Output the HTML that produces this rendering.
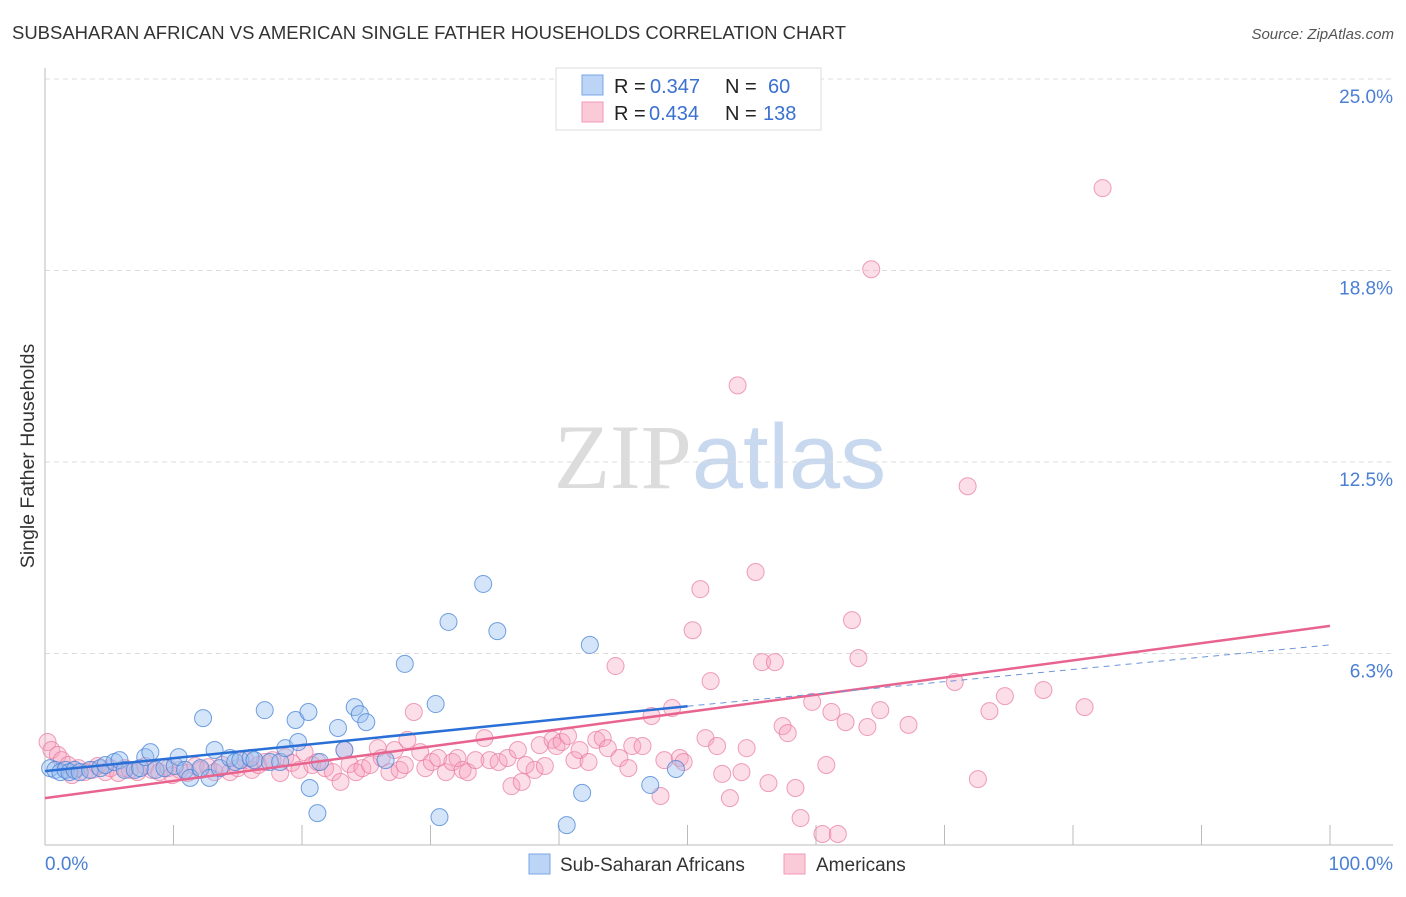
<!DOCTYPE html>
<html><head><meta charset="utf-8"><style>
body{margin:0;background:#fff;font-family:"Liberation Sans",sans-serif;}
svg text{font-family:"Liberation Sans",sans-serif;}
</style></head><body>
<svg id="chart" width="1406" height="892" xmlns="http://www.w3.org/2000/svg">
<text x="12" y="39" font-size="18" fill="#333" textLength="834" lengthAdjust="spacingAndGlyphs">SUBSAHARAN AFRICAN VS AMERICAN SINGLE FATHER HOUSEHOLDS CORRELATION CHART</text>
<text x="1394" y="39" font-size="15" fill="#555" text-anchor="end" font-style="italic">Source: ZipAtlas.com</text>
<text x="720" y="488" font-size="92" text-anchor="middle"><tspan fill="#dcdcdc" font-family="Liberation Serif">ZIP</tspan><tspan fill="#c8d8ee">atlas</tspan></text>
<g id="grid"></g>
<g id="axes"></g>
<g id="pinkpts"></g>
<g id="bluepts"></g>
<g id="lines"></g>
<text transform="translate(34,456) rotate(-90)" font-size="19.5" fill="#333" text-anchor="middle">Single Father Households</text>
<text x="45" y="870" font-size="19" fill="#4a7fd4">0.0%</text>
<text x="1393" y="870" font-size="19" fill="#4a7fd4" text-anchor="end">100.0%</text>
<g>
<rect x="556" y="68" width="265" height="62" fill="#fff" stroke="#ddd"/>
<rect x="582" y="75" width="21" height="20" fill="#bcd4f5" stroke="#7aa6e6"/>
<rect x="582" y="102" width="21" height="20" fill="#fbcad8" stroke="#f09ab4"/>
<text x="614" y="93" font-size="20" fill="#222">R =</text>
<text x="650" y="93" font-size="20" fill="#3a70d0">0.347</text>
<text x="725" y="93" font-size="20" fill="#222">N =</text>
<text x="768" y="93" font-size="20" fill="#3a70d0">60</text>
<text x="614" y="120" font-size="20" fill="#222">R =</text>
<text x="649" y="120" font-size="20" fill="#3a70d0">0.434</text>
<text x="725" y="120" font-size="20" fill="#222">N =</text>
<text x="763" y="120" font-size="20" fill="#3a70d0">138</text>
</g>
<g>
<rect x="529" y="854" width="21" height="20" fill="#bcd4f5" stroke="#7aa6e6"/>
<text x="560" y="871" font-size="19" fill="#333">Sub-Saharan Africans</text>
<rect x="784" y="854" width="21" height="20" fill="#fbcad8" stroke="#f09ab4"/>
<text x="816" y="871" font-size="19" fill="#333">Americans</text>
</g>
</svg>
<script>
const yTicks=[6.25,12.5,18.75,25];
const yTickLabels=["6.3%","12.5%","18.8%","25.0%"];
const blueX=[0.4,0.8,1.2,1.6,1.9,2.3,2.7,3.5,4.3,4.7,5.4,5.8,6.2,7.0,7.4,7.8,8.2,8.6,9.3,10.1,10.4,10.9,11.3,12.1,12.3,12.8,13.2,13.6,14.4,14.8,15.2,16.0,16.3,17.1,17.5,18.3,18.7,19.5,19.7,20.5,20.6,21.2,21.4,22.8,23.3,24.1,24.5,25.0,26.5,28.0,30.4,30.7,31.4,34.1,35.2,40.6,41.8,42.4,47.1,49.1];
const blueY=[2.51,2.45,2.38,2.45,2.38,2.45,2.38,2.45,2.51,2.61,2.71,2.77,2.45,2.45,2.51,2.87,3.03,2.45,2.51,2.58,2.87,2.45,2.19,2.51,4.14,2.19,3.10,2.51,2.84,2.71,2.77,2.84,2.77,4.40,2.71,2.71,3.16,4.08,3.36,4.34,1.86,1.04,2.71,3.82,3.10,4.50,4.27,4.01,2.77,5.91,4.60,0.91,7.28,8.52,6.98,0.65,1.70,6.53,1.96,2.48];
const pinkX=[0.2,0.5,1.0,1.3,1.8,2.1,2.6,3.1,3.7,4.1,4.7,5.1,5.7,6.2,6.6,7.2,7.8,8.3,8.9,9.6,9.9,10.5,11.1,11.7,12.1,12.7,13.2,13.8,14.4,15.0,15.6,16.1,16.6,17.1,17.7,18.3,18.7,19.2,19.8,20.2,20.8,21.2,21.8,22.4,23.0,23.3,23.7,24.2,24.7,25.3,25.9,26.2,26.8,27.2,27.6,28.0,28.2,28.7,29.2,29.6,30.1,30.6,31.2,31.7,32.1,32.5,32.9,33.5,34.2,34.6,35.3,36.0,36.3,36.8,37.1,37.4,38.1,38.5,38.9,39.5,39.8,40.2,40.7,41.2,41.6,42.3,42.9,43.4,43.8,44.4,44.7,45.4,45.7,46.5,47.2,47.9,48.2,48.8,49.4,49.7,50.4,51.0,51.8,51.4,52.3,52.7,53.3,53.9,54.2,54.6,55.3,55.8,56.3,56.8,57.4,57.8,58.4,58.8,59.7,60.5,60.8,61.2,61.7,62.3,62.8,63.3,64.0,64.3,65.0,67.2,70.8,71.8,72.6,73.5,74.7,77.7,80.9,82.3];
const pinkY=[3.36,3.10,2.94,2.77,2.61,2.28,2.51,2.38,2.45,2.58,2.38,2.51,2.35,2.51,2.45,2.38,2.58,2.45,2.38,2.51,2.28,2.45,2.35,2.58,2.45,2.54,2.38,2.61,2.38,2.51,2.77,2.45,2.61,2.71,2.77,2.35,2.87,2.68,2.45,3.03,2.61,2.71,2.51,2.38,2.06,3.10,2.64,2.38,2.51,2.61,3.16,2.84,2.38,3.10,2.45,2.61,3.43,4.34,3.03,2.51,2.71,2.84,2.38,2.71,2.84,2.45,2.38,2.77,3.49,2.77,2.71,2.84,1.92,3.10,2.06,2.61,2.45,3.26,2.58,3.43,3.23,3.36,3.56,2.77,3.10,2.71,3.43,3.49,3.16,5.84,2.84,2.51,3.23,3.23,4.21,1.60,2.77,4.47,2.84,2.71,7.01,8.35,5.35,3.49,3.23,2.32,1.53,15.0,2.38,3.16,8.91,5.97,2.02,5.97,3.88,3.65,1.86,0.88,4.67,0.36,2.61,4.34,0.36,4.01,7.34,6.10,3.85,18.79,4.40,3.92,5.32,11.71,2.15,4.37,4.86,5.06,4.50,21.44];
const blueTrend=[[0,2.41],[50,4.53]];
const blueTrendExt=[[50,4.53],[100,6.53]];
const pinkTrend=[[0,1.53],[100,7.15]];
const NS="http://www.w3.org/2000/svg";
const X0=45,X1=1330,Y0=845,YTOP=79;
function sx(v){return X0+(X1-X0)*v/100;}
function sy(v){return Y0-(Y0-YTOP)*v/25;}
function mk(tag,attrs,parent){const e=document.createElementNS(NS,tag);for(const k in attrs)e.setAttribute(k,attrs[k]);parent.appendChild(e);return e;}
const grid=document.getElementById('grid');
yTicks.forEach((t,i)=>{
  const l=mk('line',{x1:X0,x2:1393,y1:sy(t),y2:sy(t),stroke:'#ddd','stroke-dasharray':'5,4'},grid);
  
  
  const tx=mk('text',{x:1393,y:sy(t)+24,'font-size':19,fill:'#4a7fd4','text-anchor':'end'},grid);
  tx.textContent=yTickLabels[i];
  
  
});
const axes=document.getElementById('axes');
const ya=mk('line',{x1:X0,x2:X0,y1:68,y2:Y0,stroke:'#bbb'},axes);


const xa=mk('line',{x1:X0,x2:1393,y1:Y0,y2:Y0,stroke:'#bbb'},axes);


for(let k=0;k<=10;k++){
  const t=mk('line',{x1:sx(k*10),x2:sx(k*10),y1:Y0,y2:Y0-20,stroke:'#bbb'},axes);
  
  
}
const pg=document.getElementById('pinkpts');
pinkX.forEach((x,i)=>{
  const c=mk('circle',{cx:sx(x),cy:sy(pinkY[i]),r:8.5,fill:'rgba(246,160,188,0.35)',stroke:'rgba(232,120,158,0.7)','stroke-width':1},pg);
  
  
});
const bg=document.getElementById('bluepts');
blueX.forEach((x,i)=>{
  const c=mk('circle',{cx:sx(x),cy:sy(blueY[i]),r:8.5,fill:'rgba(150,190,240,0.4)',stroke:'rgba(70,130,215,0.75)','stroke-width':1},bg);
  
  
});
const lg=document.getElementById('lines');
const pl=mk('line',{x1:sx(pinkTrend[0][0]),y1:sy(pinkTrend[0][1]),x2:sx(pinkTrend[1][0]),y2:sy(pinkTrend[1][1]),stroke:'#e8648e','stroke-width':2.5},lg);


const bl=mk('line',{x1:sx(blueTrend[0][0]),y1:sy(blueTrend[0][1]),x2:sx(blueTrend[1][0]),y2:sy(blueTrend[1][1]),stroke:'#2a6fd6','stroke-width':2.5},lg);


const bd=mk('line',{x1:sx(blueTrendExt[0][0]),y1:sy(blueTrendExt[0][1]),x2:sx(blueTrendExt[1][0]),y2:sy(blueTrendExt[1][1]),stroke:'#6d95d8','stroke-width':1,'stroke-dasharray':'6,5'},lg);


</script>
</body></html>
